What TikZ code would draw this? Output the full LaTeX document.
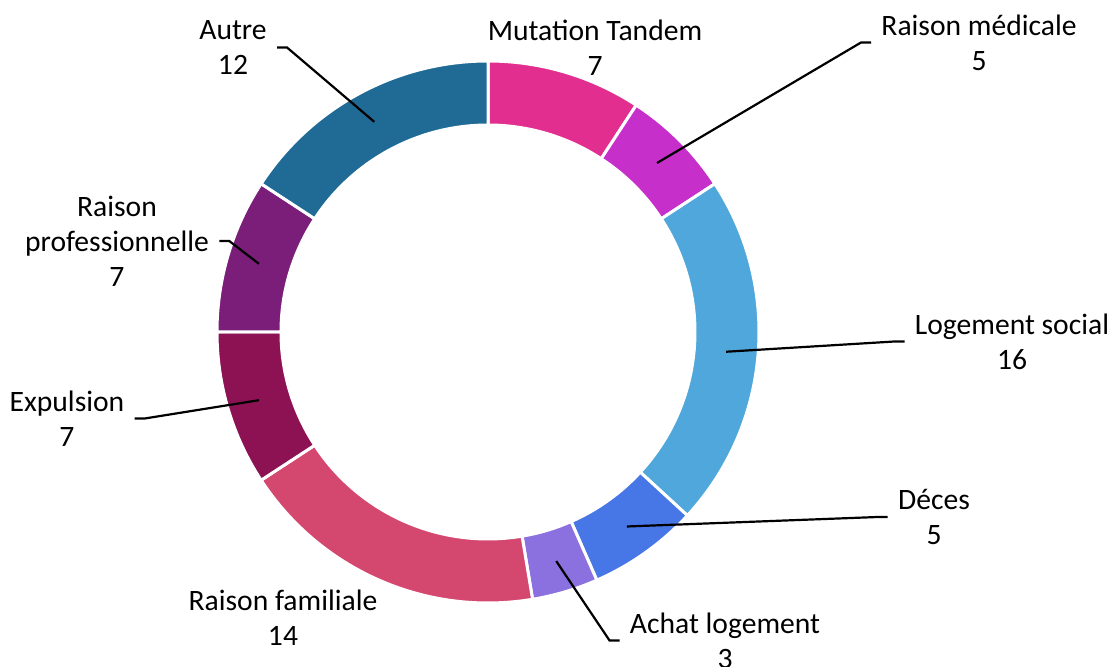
\documentclass[tikz,border=0pt]{standalone}
\usepackage{fontspec}
\setmainfont{Carlito}

\definecolor{cMutation}{HTML}{E22E8E}
\definecolor{cMedicale}{HTML}{C62FCA}
\definecolor{cLogement}{HTML}{50A7DB}
\definecolor{cDeces}{HTML}{4776E6}
\definecolor{cAchat}{HTML}{8B70DF}
\definecolor{cFamiliale}{HTML}{D44870}
\definecolor{cExpulsion}{HTML}{8C1254}
\definecolor{cPro}{HTML}{7A1E7A}
\definecolor{cAutre}{HTML}{206A96}

\tikzset{
  lbl/.style={align=center, inner sep=0pt, font=\fontsize{14.8}{17.5}\selectfont},
  leader/.style={draw=black, line width=1.1pt},
  slice/.style={draw=white, line width=1.5pt}
}

% one piece of the ring: colour, start angle, end angle
\newcommand{\ringslice}[3]{%
  \filldraw[slice, fill=#1] (#2:103.5pt) -- (#2:135.5pt)
    arc[start angle=#2, end angle=#3, radius=135.5pt] -- (#3:103.5pt)
    arc[start angle=#3, end angle=#2, radius=103.5pt] -- cycle;}

\begin{document}
\begin{tikzpicture}[x=0.5pt, y=0.5pt]
			\useasboundingbox (-488,-335) rectangle (624,332);
			
			% Ring (clockwise from the top)
			\ringslice{cMutation}{90}{56.84}
			\ringslice{cMedicale}{56.84}{33.16}
			\ringslice{cLogement}{33.16}{-42.63}
			\ringslice{cDeces}{-42.63}{-66.32}
			\ringslice{cAchat}{-66.32}{-80.53}
			\ringslice{cFamiliale}{-80.53}{-146.84}
			\ringslice{cExpulsion}{-146.84}{-180}
			\ringslice{cPro}{-180}{-213.16}
			\ringslice{cAutre}{-213.16}{-270}
			
			% Points in the middle of the slices
			\coordinate (aMedicale) at (45:239);
			\coordinate (aLogement) at (-4.74:239);
			\coordinate (aDeces) at (-54.47:239);
			\coordinate (aAchat) at (-73.42:239);
			\coordinate (aExpulsion) at (196.58:239);
			\coordinate (aPro) at (163.42:239);
			\coordinate (aAutre) at (118.42:239);
			
			% Labels
			\node[lbl] (Mutation) at (107,284.5) {Mutation Tandem\\7};
			\node[lbl] (Medicale) at (491,289.5) {Raison médicale\\5};
			\node[lbl] (Logement) at (524,-9.5) {Logement social\\16};
			\node[lbl] (Deces) at (446,-185) {Déces\\5};
			\node[lbl] (Achat) at (237,-308.5) {Achat logement\\3};
			\node[lbl] (Familiale) at (-205,-286) {Raison familiale\\14};
			\node[lbl] (Expulsion) at (-421,-86.5) {Expulsion\\7};
			\node[lbl] (Pro) at (-371,91) {Raison\\professionnelle\\7};
			\node[lbl] (Autre) at (-255,284.5) {Autre\\12};
			
			% Leader lines
			\draw[leader] (aMedicale) -- ([xshift=-10pt]Medicale.west) -- ([xshift=-5pt]Medicale.west);
			\draw[leader] (aLogement) -- ([xshift=-10pt]Logement.west) -- ([xshift=-5pt]Logement.west);
			\draw[leader] (aDeces) -- ([xshift=-10pt]Deces.west) -- ([xshift=-5pt]Deces.west);
			\draw[leader] (aAchat) -- ([xshift=-10pt]Achat.west) -- ([xshift=-5pt]Achat.west);
			\draw[leader] (aExpulsion) -- ([xshift=10pt]Expulsion.east) -- ([xshift=5pt]Expulsion.east);
			\draw[leader] (aPro) -- ([xshift=10pt]Pro.east) -- ([xshift=5pt]Pro.east);
			\draw[leader] (aAutre) -- ([xshift=10pt]Autre.east) -- ([xshift=5pt]Autre.east);
		\end{tikzpicture}
\end{document}
